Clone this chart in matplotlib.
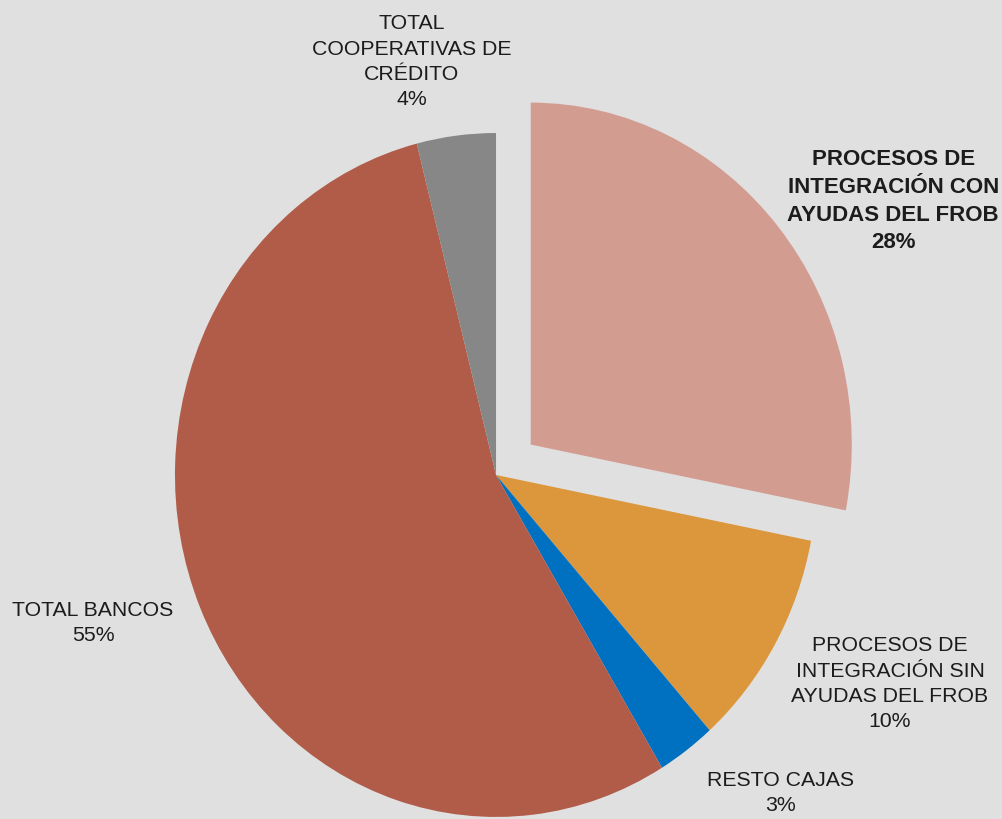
import matplotlib
matplotlib.use('Agg')
import matplotlib.pyplot as plt


labels = ['PROCESOS DE\nINTEGRACIÓN CON\nAYUDAS DEL FROB', 'PROCESOS DE\nINTEGRACIÓN SIN\nAYUDAS DEL FROB',
'RESTO CAJAS', 'TOTAL BANCOS', 'TOTAL\nCOOPERATIVAS DE\nCRÉDITO']
values = [28.08, 10.33, 2.94, 54.67, 3.97]
pct_text = ['28%', '10%', '3%', '55%', '4%']
colors = ['#d39c91', '#dc963b', '#0070c0', '#b05c49', '#878787']
explode = [0.14, 0, 0, 0, 0]

# label centres in data units (radius 1 = pie)
label_pos = [(1.237, 0.80), (1.227, -0.611), (0.885, -0.930), (-1.255, -0.433), (-0.262, 1.208)]

bg = '#e0e0e0'
fig = plt.figure(figsize=(10.02, 8.19), dpi=100, facecolor=bg)
ax = fig.add_axes([0, 0, 1, 1])
ax.set_facecolor(bg)

ax.pie(values, colors=colors, explode=explode, startangle=90, counterclock=False,
       wedgeprops={'linewidth': 0})

for i in range(len(labels)):
	x, y = label_pos[i]
	if i == 0:
		weight, size = 'bold', 16
	else:
		weight, size = 'normal', 15.3
	ax.text(x, y, labels[i] + '\n' + pct_text[i], ha='center', va='center',
	        fontsize=size, color='#1c1c1c', linespacing=1.42, fontweight=weight,
	        family=['Liberation Sans Narrow', 'Liberation Sans', 'DejaVu Sans'])

ax.set_aspect('auto')
ax.set_xlim(-1.545, 1.576)
ax.set_ylim(-1.006, 1.389)
ax.axis('off')

plt.savefig('out.png', dpi=100, facecolor=bg)
